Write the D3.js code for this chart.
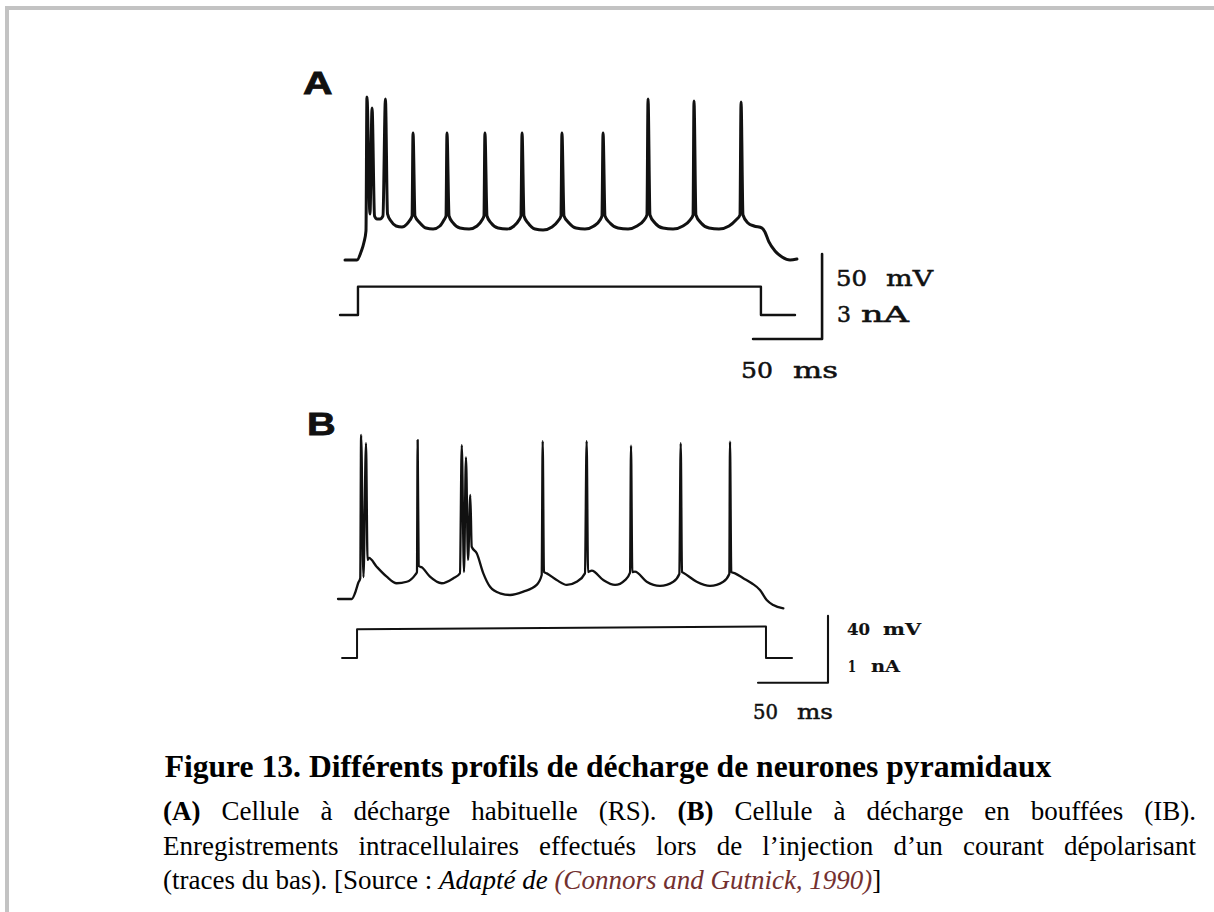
<!DOCTYPE html>
<html>
<head>
<meta charset="utf-8">
<script src="https://cdn.jsdelivr.net/npm/d3@7"></script>
<style>
  body { margin: 0; background: #fff; }
  #page { position: relative; width: 1214px; height: 912px; overflow: hidden; background: #fff; }
  #page svg { position: absolute; left: 0; top: 0; }
  .line { position: absolute; left: 163px; width: 1033px; height: 35px; line-height: 35px;
          font-family: "Liberation Serif", "Times New Roman", serif; font-size: 27px; color: #000; }
  .just { text-align: justify; text-align-last: justify; }
  .nowrap { white-space: nowrap; }
  .ref { color: #73302f; }
</style>
</head>
<body>
<div id="page"></div>
<script>
//trace A : regular spiking cell, [time ms, membrane potential mV]
var traceA = [
  [0,-70],[8.7,-70],[11.6,-65.3],[13.8,-59.4],[15.2,-52.9],
  [15.9,25.9],[18.1,-42.9],
  [19.6,19.4],[21.4,-44.1],[23.2,-45.9],[25.4,-45.9],[27.5,-44.1],
  [29.3,24.7],[30.8,-42.9],[33.3,-47.1],[37.0,-50.0],[41.3,-50.6],[44.9,-48.8],[47.1,-46.5],[48.6,-44.1],
  [49.3,4.7],[50.7,-44.1],[54.3,-48.2],[58.7,-51.2],[63.8,-51.8],[68.8,-50.0],[71.7,-46.5],[73.2,-44.1],
  [73.9,4.7],[75.4,-44.1],[78.3,-48.2],[83.3,-51.2],[89.9,-51.8],[95.7,-50.0],[99.3,-46.5],[100.7,-44.1],
  [101.4,4.7],[102.9,-44.1],[105.8,-48.2],[110.9,-51.2],[117.4,-51.8],[122.5,-50.0],[126.1,-46.5],[127.5,-44.1],
  [128.3,4.7],[129.7,-44.1],[132.6,-48.2],[137.7,-51.8],[143.5,-52.4],[150.0,-50.6],[154.3,-47.1],[156.5,-44.1],
  [157.2,4.7],[158.7,-44.1],[162.3,-48.2],[167.4,-51.2],[173.9,-51.8],[180.4,-50.0],[184.8,-46.5],[186.2,-44.1],
  [187.0,4.7],[188.4,-44.1],[192.0,-48.2],[197.8,-51.2],[205.1,-51.8],[211.6,-50.0],[216.7,-46.5],[218.8,-43.5],
  [219.6,24.7],[221.0,-43.5],[224.6,-48.2],[230.4,-51.2],[237.7,-51.8],[244.9,-50.0],[250.0,-46.5],[252.2,-43.5],
  [252.9,23.5],[254.3,-43.5],[258.0,-48.2],[263.8,-51.2],[271.0,-51.8],[278.3,-50.0],[283.3,-46.5],[286.2,-43.5],
  [287.0,22.9],[288.4,-43.5],[292.0,-48.2],[296.4,-50.0],[302.2,-51.2],[304.3,-53.5],[307.2,-59.4],
  [311.6,-64.7],[316.7,-68.2],[322.5,-70],[327.5,-69.4]
];
//injected current A, [time ms, nA]
var currentA = [[-3.6,0],[9.4,0],[9.4,1],[301.4,1],[301.4,0],[326.1,0]];

//trace B : intrinsically bursting cell
var traceB = [
  [0,-70],[9.8,-70],[12.1,-66.6],[14.5,-60.3],[15.9,-57.6],
  [16.5,27.9],[18.2,-56.9],
  [20.0,23.1],[21.1,-46.7],[22.1,-45.5],[27.6,-50.7],[34.8,-56.7],[41.9,-60.6],[49.1,-59.7],[55.0,-55.7],[56.4,-53.9],
  [56.9,24.9],[57.6,-50.3],[59.8,-51.1],[65.7,-56.7],[74.1,-60.6],[82.4,-57.6],[87.1,-54.7],
  [88.4,21.9],[90.0,-53.9],
  [91.4,14.6],[92.9,-46.7],
  [94.5,-7.9],[95.5,-38.8],[99.1,-42.7],[103.8,-54.7],[108.6,-62.7],[115.7,-66.6],[122.9,-67.6],
  [132.4,-65.6],[141.9,-61.6],[145.5,-55.7],
  [146.2,24.3],[147.1,-53.9],[149.1,-54.7],[156.2,-58.7],[163.4,-61.6],[170.5,-59.7],[176.4,-54.7],
  [177.6,24.3],[178.6,-53.9],[181.2,-53.1],[189.5,-58.7],[197.9,-61.6],[205.0,-58.7],[208.6,-54.3],
  [209.3,21.5],[210.2,-53.9],[212.1,-53.7],[220.5,-59.7],[230.0,-62.2],[239.5,-59.7],[243.8,-55.1],
  [244.8,23.0],[245.7,-53.9],[246.6,-54.3],[256.2,-59.7],[265.7,-62.2],[275.2,-59.7],[279.5,-55.1],
  [280.0,23.9],[280.9,-53.9],[283.6,-54.7],[289.5,-57.6],[295.5,-60.6],[301.4,-64.6],[306.2,-70.6],
  [310.9,-73.6],[318.1,-75.6]
];
var currentB = [[2.9,0],[13.6,0],[13.6,0.43],[305.7,0.47],[305.7,0],[324.3,0]];

//scale bars : [ms, mV, nA]
var barA = [50, 50, 3];
var barB = [50, 40, 1];
var barLabelsA = [["50","mV"],["3","nA"],["50","ms"]];
var barLabelsB = [["40","mV"],["1","nA"],["50","ms"]];
var panelLabels = ["A", "B"];
var title = "Figure 13. Différents profils de décharge de neurones pyramidaux";

var w = 1214;
var h = 912;

var page = d3.select("#page");
var svg = page.append("svg")
  .attr("width", w)
  .attr("height", h);

//frame (top and left edges only)
svg.append("rect").attr("x", 5).attr("y", 6).attr("width", w - 5).attr("height", 4).attr("fill", "#c3c3c3");
svg.append("rect").attr("x", 5).attr("y", 6).attr("width", 4).attr("height", h - 6).attr("fill", "#c3c3c3");

//scales panel A
var xA = d3.scaleLinear().domain([0, 330]).range([345, 345 + 330 * 1.38]);
var yA = d3.scaleLinear().domain([-70, 30]).range([260, 260 - 100 * 1.7]);
var iA = d3.scaleLinear().domain([0, 3]).range([315, 230]);

//scales panel B
var xB = d3.scaleLinear().domain([0, 330]).range([338, 338 + 330 * 1.4]);
var yB = d3.scaleLinear().domain([-70, 30]).range([599, 599 - 100 * 1.675]);
var iB = d3.scaleLinear().domain([0, 1]).range([658, 591]);

function drawLine(data, x, y, curve, width) {
  var line = d3.line()
    .x(function(d) { return x(d[0]); })
    .y(function(d) { return y(d[1]); })
    .curve(curve);
  svg.append("path")
    .datum(data)
    .attr("d", line)
    .attr("fill", "none")
    .attr("stroke", "#111")
    .attr("stroke-width", width)
    .attr("stroke-linejoin", "round")
    .attr("stroke-linecap", "round");
}

drawLine(traceA, xA, yA, d3.curveMonotoneX, 3);
drawLine(currentA, xA, iA, d3.curveLinear, 2.4);
drawLine(traceB, xB, yB, d3.curveMonotoneX, 2.3);
drawLine(currentB, xB, iB, d3.curveLinear, 2);

//scale bars, corner at the end of the time bar
function drawBar(bar, x, y, t0, v0, width) {
  var pts = [[t0, v0 + bar[1]], [t0, v0], [t0 - bar[0], v0]];
  drawLine(pts, x, y, d3.curveLinear, width);
}
drawBar(barA, xA, yA, 345.7, -116.5, 2.6);
drawBar(barB, xB, yB, 350, -120, 2.1);

function word(txt, x, y, len, size, weight) {
  svg.append("text")
    .attr("x", x)
    .attr("y", y)
    .attr("textLength", len)
    .attr("lengthAdjust", "spacingAndGlyphs")
    .attr("font-family", "DejaVu Serif, serif")
    .attr("font-size", size)
    .attr("font-weight", weight)
    .attr("fill", "#111")
    .attr("stroke", "#111")
    .attr("stroke-width", weight == "bold" ? 0.2 : 0.5)
    .text(txt);
}
word(barLabelsA[0][0], 836, 286, 31, 22, "normal");
word(barLabelsA[0][1], 886, 286, 47, 22, "normal");
word(barLabelsA[1][0], 837, 322, 14, 22, "normal");
word(barLabelsA[1][1], 861, 322, 48, 22, "normal");
word(barLabelsA[2][0], 741, 378, 32, 22, "normal");
word(barLabelsA[2][1], 793, 378, 45, 22, "normal");

word(barLabelsB[0][0], 847, 635, 23, 16, "bold");
word(barLabelsB[0][1], 883, 635, 38, 16, "bold");
word(barLabelsB[1][0], 848, 672, 8, 16, "bold");
word(barLabelsB[1][1], 871, 672, 29, 16, "bold");
word(barLabelsB[2][0], 753, 719, 25, 21, "normal");
word(barLabelsB[2][1], 797, 719, 36, 21, "normal");

//panel letters
svg.selectAll("text.panel")
  .data(panelLabels)
  .enter()
  .append("text")
  .attr("class", "panel")
  .attr("transform", function(d, i) {
    return i == 0 ? "translate(303,94) scale(1.32,1)" : "translate(307,435) scale(1.28,1)";
  })
  .attr("font-family", "Liberation Sans, Arial, sans-serif")
  .attr("font-weight", "bold")
  .attr("font-size", 31)
  .attr("fill", "#111")
  .attr("stroke", "#111")
  .attr("stroke-width", 0.8)
  .text(function(d) { return d; });

//caption title
svg.append("text")
  .attr("x", 608)
  .attr("y", 777)
  .attr("text-anchor", "middle")
  .attr("font-family", "Liberation Serif, Times New Roman, serif")
  .attr("font-weight", "bold")
  .attr("font-size", 31.6)
  .attr("fill", "#000")
  .text(title);

//caption paragraph
page.append("div").attr("class", "line just").style("top", "794px")
  .html("<b>(A)</b> Cellule à décharge habituelle (RS). <b>(B)</b> Cellule à décharge en bouffées (IB).");
page.append("div").attr("class", "line just").style("top", "829px")
  .html("Enregistrements intracellulaires effectués lors de l’injection d’un courant dépolarisant");
page.append("div").attr("class", "line nowrap").style("top", "863px")
  .html("(traces du bas). [Source : <i>Adapté de </i><i class=\"ref\">(Connors and Gutnick, 1990)</i>]");
</script>
</body>
</html>
